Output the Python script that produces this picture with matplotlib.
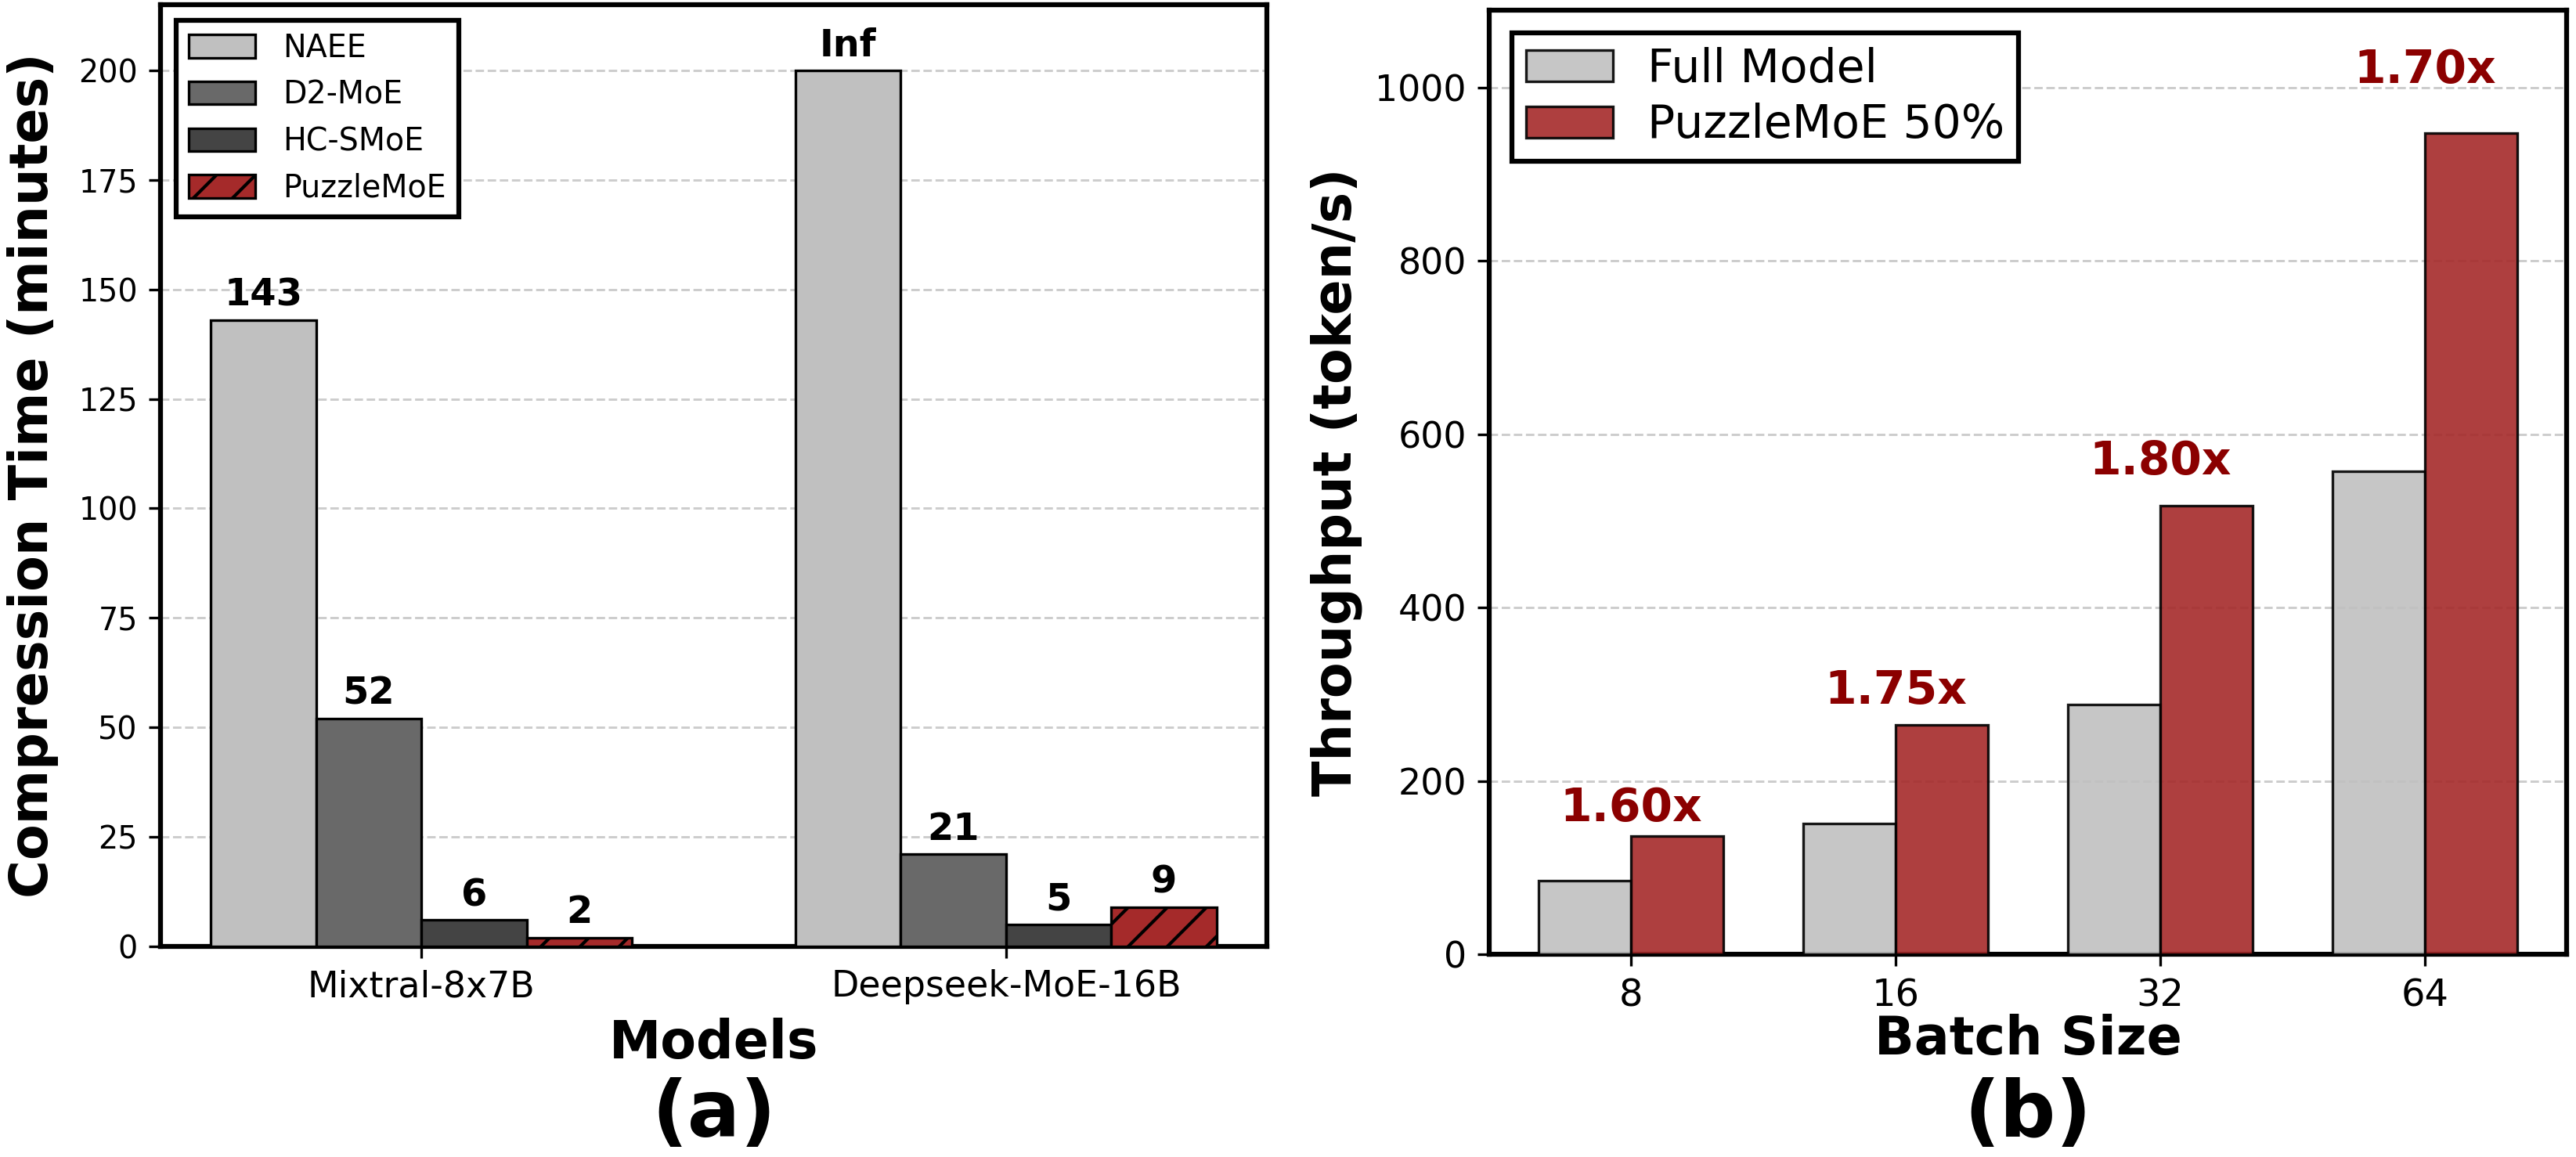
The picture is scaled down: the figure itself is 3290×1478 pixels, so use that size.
import numpy as np
import matplotlib
matplotlib.use("Agg")
import matplotlib.pyplot as plt

# (a) compression time
models = ["Mixtral-8x7B", "Deepseek-MoE-16B"]
methods = ["NAEE", "D2-MoE", "HC-SMoE", "PuzzleMoE"]
naee = [143, 200]
d2moe = [52, 21]
hcsmoe = [6, 5]
puzzle = [2, 9]
naee_labels = ["143", "Inf"]

# (b) throughput
batch_sizes = ["8", "16", "32", "64"]
full_model = [85, 151, 288, 557]
puzzle_50 = [136, 265, 517, 947]
speedups = ["1.60x", "1.75x", "1.80x", "1.70x"]

plt.rcParams['font.family'] = 'DejaVu Sans'
plt.rcParams['hatch.linewidth'] = 1.0

W, H = 3290, 1478
fig = plt.figure(figsize=(W / 300, H / 300), dpi=300)

ax1 = fig.add_axes([205 / W, 1 - 1209 / H, (1618 - 205) / W, (1209 - 6) / H])
ax2 = fig.add_axes([1902 / W, 1 - 1219 / H, (3278 - 1902) / W, (1219 - 13) / H])

# ---- panel (a)
x = np.arange(len(models))
w = 0.18
series = [naee, d2moe, hcsmoe, puzzle]
colors = ['#c0c0c0', '#696969', '#444444', '#a52a2a']
hatches = [None, None, None, '//']
offsets = [-1.5, -0.5, 0.5, 1.5]
for vals, name, c, h, off in zip(series, methods, colors, hatches, offsets):
    bars = ax1.bar(x + off * w, vals, w, label=name, color=c, edgecolor='black',
                   linewidth=0.8, hatch=h, zorder=3)
    if name == "NAEE":
        labels = naee_labels
    else:
        labels = [str(v) for v in vals]
    for b, lab in zip(bars, labels):
        ax1.annotate(lab, (b.get_x() + b.get_width() / 2, b.get_height()),
                     xytext=(0, 2), textcoords='offset points', ha='center',
                     va='bottom', fontsize=11.5, fontweight='bold')

ax1.set_ylim(0, 215)
ax1.set_yticks(np.arange(0, 201, 25))
ax1.set_xticks(x)
ax1.set_xticklabels(models)
ax1.tick_params(axis='y', labelsize=9.5)
ax1.tick_params(axis='x', labelsize=11)
ax1.set_ylabel("Compression Time (minutes)", fontsize=16, fontweight='bold', labelpad=6)
ax1.set_xlabel("Models", fontsize=16, fontweight='bold', labelpad=4)
ax1.grid(axis='y', linestyle='--', color='#cccccc', linewidth=0.7)
ax1.set_axisbelow(True)
leg1 = ax1.legend(loc='upper left', fontsize=9.5, handlelength=2.15, handleheight=0.77,
                  handletextpad=0.9, labelspacing=0.5, borderpad=0.4,
                  fancybox=False, framealpha=1, edgecolor='black')
leg1.get_frame().set_linewidth(1.5)

# ---- panel (b)
xb = np.arange(len(batch_sizes))
wb = 0.35
ax2.bar(xb - wb / 2, full_model, wb, label="Full Model", color='silver', alpha=0.9,
        edgecolor='black', linewidth=0.8, zorder=3)
ax2.bar(xb + wb / 2, puzzle_50, wb, label="PuzzleMoE 50%", color='brown', alpha=0.9,
        edgecolor='black', linewidth=0.8, zorder=3)
for i, s in enumerate(speedups):
    ax2.text(xb[i], puzzle_50[i] * 1.05, s, ha='center', va='bottom',
             fontsize=14, fontweight='bold', color='darkred')

ax2.set_ylim(0, max(puzzle_50) * 1.15)
ax2.set_xticks(xb)
ax2.set_xticklabels(batch_sizes)
ax2.tick_params(axis='y', labelsize=11)
ax2.tick_params(axis='x', labelsize=11.5)
ax2.set_ylabel("Throughput (token/s)", fontsize=16, fontweight='bold', labelpad=4)
ax2.set_xlabel("Batch Size", fontsize=16, fontweight='bold', labelpad=0)
ax2.grid(axis='y', linestyle='--', color='#cccccc', linewidth=0.7)
ax2.set_axisbelow(True)
leg2 = ax2.legend(loc='upper left', fontsize=14, handlelength=1.9, handleheight=0.67,
                  handletextpad=0.77, labelspacing=0.25, borderpad=0.3,
                  fancybox=False, framealpha=1, edgecolor='black')
leg2.get_frame().set_linewidth(1.5)

for ax in (ax1, ax2):
    for sp in ax.spines.values():
        sp.set_linewidth(1.5)
        sp.set_color('black')

fig.text((205 + 1618) / 2 / W, 1 - 1452 / H, "(a)", ha='center', va='baseline',
         fontsize=24, fontweight='bold')
fig.text((1902 + 3278) / 2 / W, 1 - 1452 / H, "(b)", ha='center', va='baseline',
         fontsize=24, fontweight='bold')

fig.savefig("out.png", dpi=300)
